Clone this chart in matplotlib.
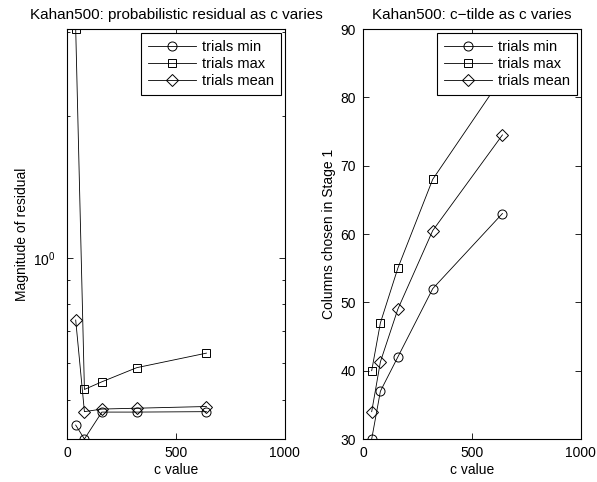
import numpy as np
import matplotlib
matplotlib.use('Agg')
import matplotlib.pyplot as plt
from matplotlib.ticker import LogLocator, NullFormatter, FixedLocator

plt.rcParams['font.family'] = ['Liberation Sans', 'DejaVu Sans']
plt.rcParams['mathtext.fontset'] = 'custom'
plt.rcParams['mathtext.rm'] = 'Liberation Sans'
plt.rcParams['font.size'] = 10

# c values tested
c_vals = [40, 80, 160, 320, 640]

# left panel: magnitude of residual
resid_min = [0.443, 0.414, 0.472, 0.472, 0.473]
resid_max = [3.05, 0.527, 0.547, 0.586, 0.629]
resid_mean = [0.739, 0.473, 0.479, 0.481, 0.485]

# right panel: columns chosen in stage 1
cols_min = [30, 37, 42, 52, 63]
cols_max = [40, 47, 55, 68, 83]
cols_mean = [34, 41.3, 49, 60.5, 74.5]

labels = ['trials min', 'trials max', 'trials mean']
markers = ['o', 's', 'D']
msizes = [6.5, 5.8, 5.8]


def style_axes(ax):
    for s in ax.spines.values():
        s.set_linewidth(0.8)
    ax.tick_params(which='both', direction='in', top=True, right=True,
                   labelsize=10, width=0.6, color='black')
    ax.tick_params(which='major', length=4, pad=5)
    ax.tick_params(which='minor', length=2.5)


def draw(ax, ys):
    for y, lab, m, ms in zip(ys, labels, markers, msizes):
        ax.plot(c_vals, y, color='black', linewidth=0.6, marker=m,
                markersize=ms, markerfacecolor='none', markeredgecolor='black',
                markeredgewidth=0.7, label=lab)
    leg = ax.legend(loc='upper right', fancybox=False, framealpha=1,
                    edgecolor='black', handlelength=3.3, borderpad=0.45,
                    labelspacing=0.22, handletextpad=0.4, borderaxespad=0.3,
                    fontsize=10.5)
    leg.get_frame().set_linewidth(0.8)


fig = plt.figure(figsize=(5.97, 4.82), dpi=100)

ax1 = fig.add_axes([0.1122, 0.0892, 0.365, 0.8506])
draw(ax1, [resid_min, resid_max, resid_mean])
ax1.set_yscale('log')
ax1.set_xlim(0, 1000)
ax1.set_ylim(min(min(resid_min), min(resid_mean)), max(resid_max))
ax1.set_xticks([0, 500, 1000])
ax1.yaxis.set_major_locator(FixedLocator([1.0]))
ax1.yaxis.set_minor_locator(LogLocator(base=10, subs=np.arange(2, 10)))
ax1.yaxis.set_minor_formatter(NullFormatter())
ax1.set_yticklabels([r'$10^{0}$'])
style_axes(ax1)
ax1.tick_params(axis='y', which='major', pad=8)
ax1.set_xlabel('c value', labelpad=2.5)
ax1.set_ylabel('Magnitude of residual', labelpad=3)
ax1.set_title('Kahan500: probabilistic residual as c varies', fontsize=11, pad=7)

ax2 = fig.add_axes([0.608, 0.0892, 0.365, 0.8506])
draw(ax2, [cols_min, cols_max, cols_mean])
ax2.set_xlim(0, 1000)
ax2.set_ylim(30, 90)
ax2.set_xticks([0, 500, 1000])
ax2.set_yticks([30, 40, 50, 60, 70, 80, 90])
style_axes(ax2)
ax2.set_xlabel('c value', labelpad=2.5)
ax2.set_ylabel('Columns chosen in Stage 1', labelpad=3)
ax2.set_title('Kahan500: c\u2212tilde as c varies', fontsize=11, pad=7)

fig.savefig('out.png', dpi=100)
